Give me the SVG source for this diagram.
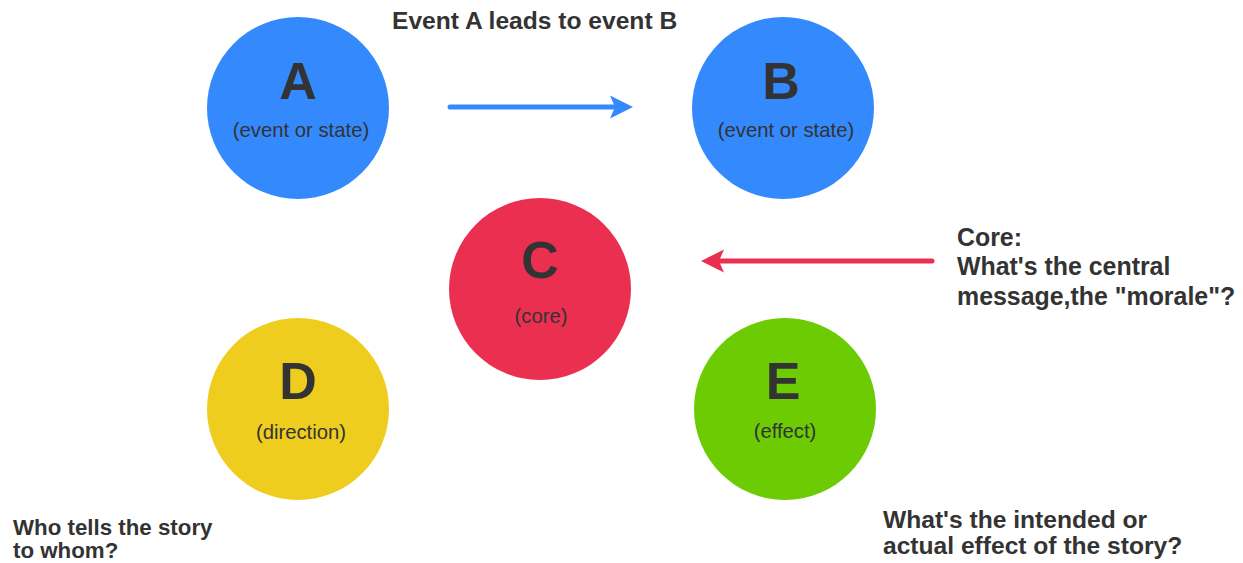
<svg xmlns="http://www.w3.org/2000/svg" width="1243" height="563" viewBox="0 0 1243 563">
  <style>
    .node-letter { font-family: "Liberation Sans", Arial, sans-serif; font-weight: bold; font-size: 52px; fill: #333333; text-anchor: middle; }
    .node-sub { font-family: "Liberation Sans", Arial, sans-serif; font-size: 20.3px; fill: #333333; text-anchor: middle; }
    .label { font-family: "Liberation Sans", Arial, sans-serif; font-weight: bold; font-size: 24.6px; fill: #333333; }
    .label-core { font-family: "Liberation Sans", Arial, sans-serif; font-weight: bold; font-size: 24.9px; fill: #333333; }
    .label-small { font-family: "Liberation Sans", Arial, sans-serif; font-weight: bold; font-size: 22.3px; fill: #333333; }
    .blue { fill: #3489fc; }
    .red { fill: #eb2f51; }
    .yellow { fill: #efcd1e; }
    .green { fill: #6ccb02; }
  </style>
  <defs>
    <!-- arrowhead tip sits 15px beyond the line end -->
    <marker id="head-blue" viewBox="0 0 24 24" refX="8" refY="12" markerWidth="24" markerHeight="24" markerUnits="userSpaceOnUse" orient="auto">
      <path d="M23,12 L0,0.5 L5,12 L0,23.5 Z" fill="#3489fc"/>
    </marker>
    <marker id="head-red" viewBox="0 0 24 24" refX="8" refY="12" markerWidth="24" markerHeight="24" markerUnits="userSpaceOnUse" orient="auto">
      <path d="M23,12 L0,0.5 L5,12 L0,23.5 Z" fill="#eb2f51"/>
    </marker>
  </defs>

  <rect width="1243" height="563" fill="#ffffff"/>

  <g id="node-a">
    <circle class="blue" cx="298" cy="108" r="91"/>
    <text class="node-letter" x="298" y="99">A</text>
    <text class="node-sub" x="301" y="137">(event or state)</text>
  </g>

  <g id="node-b">
    <circle class="blue" cx="783" cy="108" r="91"/>
    <text class="node-letter" x="781" y="99">B</text>
    <text class="node-sub" x="786" y="137">(event or state)</text>
  </g>

  <g id="node-c">
    <circle class="red" cx="540" cy="289" r="91"/>
    <text class="node-letter" x="540" y="278">C</text>
    <text class="node-sub" x="541" y="323">(core)</text>
  </g>

  <g id="node-d">
    <circle class="yellow" cx="298" cy="409" r="91"/>
    <text class="node-letter" x="298" y="399">D</text>
    <text class="node-sub" x="301" y="439">(direction)</text>
  </g>

  <g id="node-e">
    <circle class="green" cx="785" cy="409" r="91"/>
    <text class="node-letter" x="783" y="399">E</text>
    <text class="node-sub" x="785" y="438">(effect)</text>
  </g>

  <g id="connectors">
    <line x1="450" y1="107" x2="618" y2="107" stroke="#3489fc" stroke-width="5" stroke-linecap="round" marker-end="url(#head-blue)"/>
    <line x1="932" y1="261" x2="716" y2="261" stroke="#eb2f51" stroke-width="5" stroke-linecap="round" marker-end="url(#head-red)"/>
  </g>

  <g id="labels">
    <text class="label" x="392" y="29">Event A leads to event B</text>
    <text class="label-core" x="957" y="246">Core:</text>
    <text class="label-core" x="957" y="275">What's the central</text>
    <text class="label-core" x="957" y="305">message,the "morale"?</text>
    <text class="label-small" x="13" y="535">Who tells the story</text>
    <text class="label-small" x="13" y="558">to whom?</text>
    <text class="label" x="883" y="528">What's the intended or</text>
    <text class="label" x="883" y="554">actual effect of the story?</text>
  </g>
</svg>
